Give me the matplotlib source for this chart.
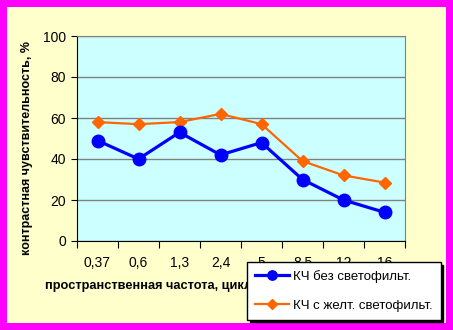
import matplotlib.pyplot as plt
from matplotlib.patches import Rectangle

plt.rcParams['font.family'] = ['Liberation Sans', 'DejaVu Sans']

# data
freq_labels = ['0,37', '0,6', '1,3', '2,4', '5', '8,5', '12', '16']
kch_no_filter = [49, 40, 53, 42, 48, 30, 20, 14]
kch_yellow = [58, 57, 58, 62, 57, 39, 32, 28.5]

W, H = 453, 330
fig = plt.figure(figsize=(W / 100, H / 100), dpi=100)
fig.patch.set_facecolor('#FF00FF')
fig.patches.append(Rectangle((7 / W, 7 / H), (446 - 7) / W, (323 - 7) / H,
                             transform=fig.transFigure, facecolor='#FFFFCC',
                             edgecolor='none', zorder=-1))

ax = fig.add_axes([77 / W, 1 - 241 / H, (405 - 77) / W, (241 - 36) / H])
ax.set_facecolor('#CCFFFF')

x = range(len(freq_labels))
ax.plot(x, kch_no_filter, '-o', color='#0000FF', lw=2.3, ms=9,
        label='КЧ без светофильт.', zorder=4)
ax.plot(x, kch_yellow, '-D', color='#FF6600', lw=1.6, ms=6.5,
        label='КЧ с желт. светофильт.', zorder=3)

ax.set_xlim(-0.5, 7.5)
ax.set_ylim(0, 100)
ax.set_yticks(range(0, 101, 20))
ax.yaxis.grid(True, color='#808080', lw=1)
ax.set_axisbelow(True)

# tick marks between categories, labels under categories
ax.set_xticks([i - 0.5 for i in range(9)])
ax.set_xticklabels([])
ax.set_xticks(list(x), minor=True)
ax.set_xticklabels(freq_labels, minor=True)
ax.tick_params(axis='x', which='major', direction='out', length=5, color='black')
ax.tick_params(axis='x', which='minor', length=0, pad=11, labelsize=10)
ax.tick_params(axis='y', direction='out', length=4, pad=4, labelsize=10)

for s in ['top', 'right']:
    ax.spines[s].set_color('#808080')
for s in ['left', 'bottom']:
    ax.spines[s].set_color('black')

ax.set_ylabel('контрастная чувствительность, %', fontsize=9, fontweight='bold')
ax.yaxis.set_label_coords((33 - 77) / 328, (241 - 148) / 205)
ax.set_xlabel('пространственная частота, цикл/град', fontsize=9.2,
              fontweight='bold', ha='left', va='center')
ax.xaxis.set_label_coords((45 - 77) / 328, (241 - 286) / 205)

fig.legend(loc='upper left', bbox_to_anchor=(247 / W, 1 - 262 / H),
           borderaxespad=0, fontsize=9.5, frameon=True, fancybox=False,
           edgecolor='black', facecolor='white', framealpha=1,
           shadow={'color': 'black', 'alpha': 1},
           handlelength=2.6, labelspacing=1.25, handletextpad=0.3,
           borderpad=0.6, markerscale=0.75)

fig.savefig('out.png', dpi=100, facecolor=fig.get_facecolor())
